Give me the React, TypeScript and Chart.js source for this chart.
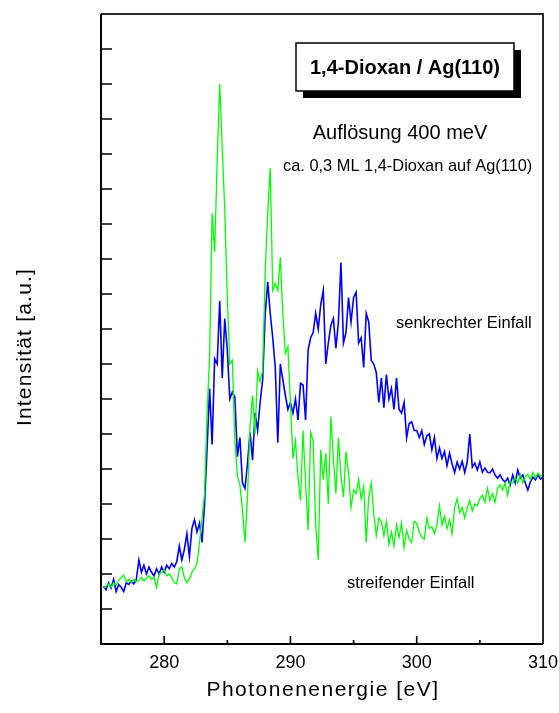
import { useEffect, useRef } from "react";
import { Chart, registerables } from "chart.js";

Chart.register(...registerables);

// Photon energy grid [eV]
const energies = [
  275.2, 275.4, 275.6, 275.8,
  276, 276.2, 276.4, 276.6, 276.8,
  277, 277.2, 277.4, 277.6, 277.8,
  278, 278.2, 278.4, 278.6, 278.8,
  279, 279.2, 279.4, 279.6, 279.8,
  280, 280.2, 280.4, 280.6, 280.8,
  281, 281.2, 281.4, 281.6, 281.8,
  282, 282.2, 282.4, 282.6, 282.8,
  283, 283.2, 283.4, 283.6, 283.8,
  284, 284.2, 284.4, 284.6, 284.8,
  285, 285.2, 285.4, 285.6, 285.8,
  286, 286.2, 286.4, 286.6, 286.8,
  287, 287.2, 287.4, 287.6, 287.8,
  288, 288.2, 288.4, 288.6, 288.8,
  289, 289.2, 289.4, 289.6, 289.8,
  290, 290.2, 290.4, 290.6, 290.8,
  291, 291.2, 291.4, 291.6, 291.8,
  292, 292.2, 292.4, 292.6, 292.8,
  293, 293.2, 293.4, 293.6, 293.8,
  294, 294.2, 294.4, 294.6, 294.8,
  295, 295.2, 295.4, 295.6, 295.8,
  296, 296.2, 296.4, 296.6, 296.8,
  297, 297.2, 297.4, 297.6, 297.8,
  298, 298.2, 298.4, 298.6, 298.8,
  299, 299.2, 299.4, 299.6, 299.8,
  300, 300.2, 300.4, 300.6, 300.8,
  301, 301.2, 301.4, 301.6, 301.8,
  302, 302.2, 302.4, 302.6, 302.8,
  303, 303.2, 303.4, 303.6, 303.8,
  304, 304.2, 304.4, 304.6, 304.8,
  305, 305.2, 305.4, 305.6, 305.8,
  306, 306.2, 306.4, 306.6, 306.8,
  307, 307.2, 307.4, 307.6, 307.8,
  308, 308.2, 308.4, 308.6, 308.8,
  309, 309.2, 309.4, 309.6, 309.8,
  310,
];

// Normal incidence ("senkrechter Einfall"), arbitrary units
const normalIncidence = [
  1.65, 1.55, 1.75, 1.6,
  1.85, 1.5, 1.7, 1.62, 1.5,
  1.75, 1.7, 1.8, 1.72, 1.85,
  2.4, 2.05, 2.25, 2.0, 2.2,
  2.05, 1.95, 2.15, 2.0, 2.2,
  2.05, 2.25, 2.15, 2.3, 2.2,
  2.35, 2.8, 2.4, 2.7, 3.15,
  2.5, 3.3, 3.55, 3.2, 3.45,
  2.9, 4.0, 5.6, 7.3, 5.7,
  8.15, 8.0, 9.8, 7.6, 9.3,
  8.4, 7.0, 7.2, 7.05, 5.35,
  5.9, 4.6, 4.45, 5.15, 6.05,
  5.25, 6.6, 6.1, 6.9, 7.55,
  9.4, 10.35, 9.45, 8.75, 7.9,
  5.75, 8.0, 7.55, 7.1, 6.7,
  6.9, 6.6, 7.0, 6.4, 7.45,
  7.4, 6.4, 8.4, 8.75, 8.9,
  9.45, 9.0, 9.7, 10.1, 8.0,
  8.6, 9.1, 9.3, 8.45, 9.2,
  10.9, 8.6, 8.9, 9.9, 9.2,
  9.9, 10.05, 8.6, 8.75, 7.9,
  9.45, 9.2, 8.1, 8.0, 7.75,
  6.9, 7.6, 6.75, 7.7, 7.0,
  7.3, 6.7, 7.6, 6.7, 6.6,
  6.9, 5.9, 6.3, 6.35, 6.1,
  6.1, 5.9, 6.1, 5.7, 5.95,
  6.0, 5.55, 5.9, 5.3, 5.6,
  5.3, 5.5, 5.1, 5.45, 5.15,
  4.9, 5.2, 5.0, 5.22, 4.9,
  5.2, 6.0, 5.05, 5.17, 4.97,
  5.2, 4.91, 5.03, 4.91, 4.89,
  5.0, 4.83, 4.74, 4.83, 4.7,
  4.63, 4.74, 4.54, 4.83, 4.6,
  4.97, 4.74, 4.83, 4.6, 4.4,
  4.63, 4.77, 4.69, 4.83, 4.71,
  4.77,
];

// Grazing incidence ("streifender Einfall"), arbitrary units
const grazingIncidence = [
  1.6, 1.65, 1.72, 1.62,
  1.75, 1.68, 1.82, 1.9, 1.97,
  1.78, 1.85, 1.75, 1.85, 1.78,
  1.82, 1.9, 1.8, 1.88, 1.95,
  1.85, 1.9, 1.62, 2.0, 2.05,
  2.12, 1.95, 2.0, 1.9, 1.75,
  1.72, 2.15, 2.2, 1.9, 1.75,
  1.85, 2.05, 2.15, 2.3, 2.9,
  3.6, 4.3, 6.6, 8.2, 12.3,
  11.2, 13.8, 16.0, 14.2, 12.4,
  9.9, 8.0, 8.1, 5.8, 4.8,
  4.55, 3.85, 2.9, 4.2, 6.2,
  7.1, 6.0, 7.8, 7.5, 7.8,
  10.6, 12.3, 13.6, 10.1, 10.3,
  10.1, 11.05, 9.4, 8.3, 8.5,
  6.9, 5.3, 5.8, 4.75, 4.1,
  6.1, 4.6, 3.25, 6.05, 5.8,
  3.4, 2.4, 5.55, 4.7, 5.45,
  4.0, 6.5, 5.3, 4.3, 5.9,
  4.8, 4.2, 5.5, 4.9, 3.9,
  4.4, 4.3, 4.7, 4.15, 4.5,
  2.9, 4.2, 4.6, 3.7, 3.1,
  3.6, 3.5, 3.1, 3.5, 2.85,
  3.2, 2.8, 3.4, 3.05, 3.45,
  2.75, 3.25, 3.0, 2.9, 3.5,
  3.45, 3.2, 3.05, 3.0, 3.6,
  3.3, 3.35, 3.15, 3.4, 3.95,
  3.4, 3.65, 3.3, 3.55, 3.15,
  3.9, 4.15, 3.75, 3.9, 3.6,
  3.9, 4.1, 3.8, 4.0, 3.95,
  4.15, 4.25, 4.05, 4.45, 4.1,
  4.3, 4.05, 4.45, 4.55, 4.4,
  4.6, 4.25, 4.65, 4.6, 4.75,
  4.6, 4.85, 4.6, 4.78, 4.85,
  4.7, 4.9, 4.75, 4.88, 4.8,
  4.83,
];

const xMajorTicks = [280, 290, 300, 310];
const xMinorTicks = [285, 295, 305];
const yTicks = [0, 1, 2, 3, 4, 5, 6, 7, 8, 9, 10, 11, 12, 13, 14, 15, 16, 17, 18];

const FONT = "'Liberation Sans', Arial, Helvetica, sans-serif";

// Inward tick marks, plot frame, axis titles and the text labels inside the plot
const framePlugin = {
  id: "spectrumFrame",
  afterDatasetsDraw(chart: any) {
    const { ctx, chartArea: a, scales } = chart;
    const xs = scales.x;
    const ys = scales.y;
    ctx.save();
    ctx.strokeStyle = "#000";
    ctx.lineWidth = 1.6;
    ctx.beginPath();
    yTicks.forEach((v) => {
      const py = ys.getPixelForValue(v);
      ctx.moveTo(a.left, py);
      ctx.lineTo(a.left + 11, py);
    });
    xMajorTicks.forEach((v) => {
      const px = xs.getPixelForValue(v);
      ctx.moveTo(px, a.bottom);
      ctx.lineTo(px, a.bottom - 8);
    });
    xMinorTicks.forEach((v) => {
      const px = xs.getPixelForValue(v);
      ctx.moveTo(px, a.bottom);
      ctx.lineTo(px, a.bottom - 4);
    });
    ctx.stroke();

    // frame: top and right a bit lighter than the two axes
    ctx.lineWidth = 2;
    ctx.strokeStyle = "#2a2a2a";
    ctx.beginPath();
    ctx.moveTo(a.left, a.top);
    ctx.lineTo(a.right, a.top);
    ctx.lineTo(a.right, a.bottom);
    ctx.stroke();
    ctx.strokeStyle = "#000";
    ctx.beginPath();
    ctx.moveTo(a.left, a.top);
    ctx.lineTo(a.left, a.bottom);
    ctx.lineTo(a.right, a.bottom);
    ctx.stroke();
    ctx.restore();
  },
  afterDraw(chart: any) {
    const { ctx, chartArea: a } = chart;
    ctx.save();

    // title box with drop shadow
    const bx = 296, by = 43, bw = 218, bh = 48;
    ctx.fillStyle = "#000";
    ctx.fillRect(bx + 7, by + 7, bw, bh);
    ctx.fillStyle = "#fff";
    ctx.fillRect(bx, by, bw, bh);
    ctx.strokeStyle = "#000";
    ctx.lineWidth = 1.5;
    ctx.strokeRect(bx, by, bw, bh);
    ctx.fillStyle = "#000";
    ctx.textAlign = "center";
    ctx.textBaseline = "middle";
    ctx.font = `bold 20px ${FONT}`;
    ctx.fillText("1,4-Dioxan / Ag(110)", bx + bw / 2, by + bh / 2 + 1);

    ctx.textBaseline = "alphabetic";
    ctx.font = `20px ${FONT}`;
    ctx.fillText("Auflösung 400 meV", 400, 139);

    ctx.textAlign = "left";
    ctx.font = `16.4px ${FONT}`;
    ctx.fillText("ca. 0,3 ML 1,4-Dioxan auf Ag(110)", 283, 171);
    ctx.font = `16.5px ${FONT}`;
    ctx.fillText("senkrechter Einfall", 396, 328);
    ctx.fillText("streifender Einfall", 347, 588);

    // horizontal axis title
    (ctx as any).letterSpacing = "1.5px";
    ctx.textAlign = "center";
    ctx.textBaseline = "middle";
    ctx.font = `21px ${FONT}`;
    ctx.fillText("Photonenenergie [eV]", (a.left + a.right) / 2 + 1, 690);

    // vertical axis title
    (ctx as any).letterSpacing = "1.2px";
    ctx.translate(25, 347);
    ctx.rotate(-Math.PI / 2);
    ctx.fillText("Intensität [a.u.]", 0, 0);
    ctx.restore();
  },
};

export default function App() {
  const canvasRef = useRef<HTMLCanvasElement | null>(null);

  useEffect(() => {
    const canvas = canvasRef.current;
    if (!canvas) return;
    Chart.defaults.font.family = FONT;
    Chart.defaults.color = "#000";

    const chart = new Chart(canvas, {
      type: "line",
      data: {
        datasets: [
          {
            label: "streifender Einfall",
            data: energies.map((e, i) => ({ x: e, y: grazingIncidence[i] })),
            borderColor: "#00ff00",
            borderWidth: 1.3,
            pointRadius: 0,
            tension: 0,
            fill: false,
          },
          {
            label: "senkrechter Einfall",
            data: energies.map((e, i) => ({ x: e, y: normalIncidence[i] })),
            borderColor: "#0000ff",
            borderWidth: 1.6,
            pointRadius: 0,
            tension: 0,
            fill: false,
          },
        ],
      },
      options: {
        animation: false,
        responsive: false,
        devicePixelRatio: 1,
        layout: { padding: { left: 0, right: 16, top: 14, bottom: 0 } },
        plugins: {
          legend: { display: false },
          tooltip: { enabled: false },
        },
        scales: {
          x: {
            type: "linear",
            min: 275,
            max: 310,
            afterBuildTicks: (axis: any) => {
              axis.ticks = xMajorTicks.map((v) => ({ value: v }));
            },
            afterFit: (axis: any) => {
              axis.height = 69;
              axis.paddingLeft = 0;
              axis.paddingRight = 0;
            },
            grid: { display: false, drawTicks: false },
            border: { display: false },
            ticks: {
              padding: 8,
              autoSkip: false,
              maxRotation: 0,
              color: "#000",
              font: { size: 18, family: FONT },
            },
            title: { display: false },
          },
          y: {
            type: "linear",
            min: 0,
            max: 18,
            afterFit: (axis: any) => {
              axis.width = 101;
              axis.paddingTop = 0;
              axis.paddingBottom = 0;
            },
            grid: { display: false, drawTicks: false },
            border: { display: false },
            ticks: { display: false },
          },
        },
      } as any,
      plugins: [framePlugin],
    });
    return () => chart.destroy();
  }, []);

  return (
    <div style={{ position: "absolute", left: 0, top: 0, width: 559, height: 713, background: "#fff" }}>
      <canvas ref={canvasRef} width={559} height={713} style={{ display: "block" }} />
    </div>
  );
}
